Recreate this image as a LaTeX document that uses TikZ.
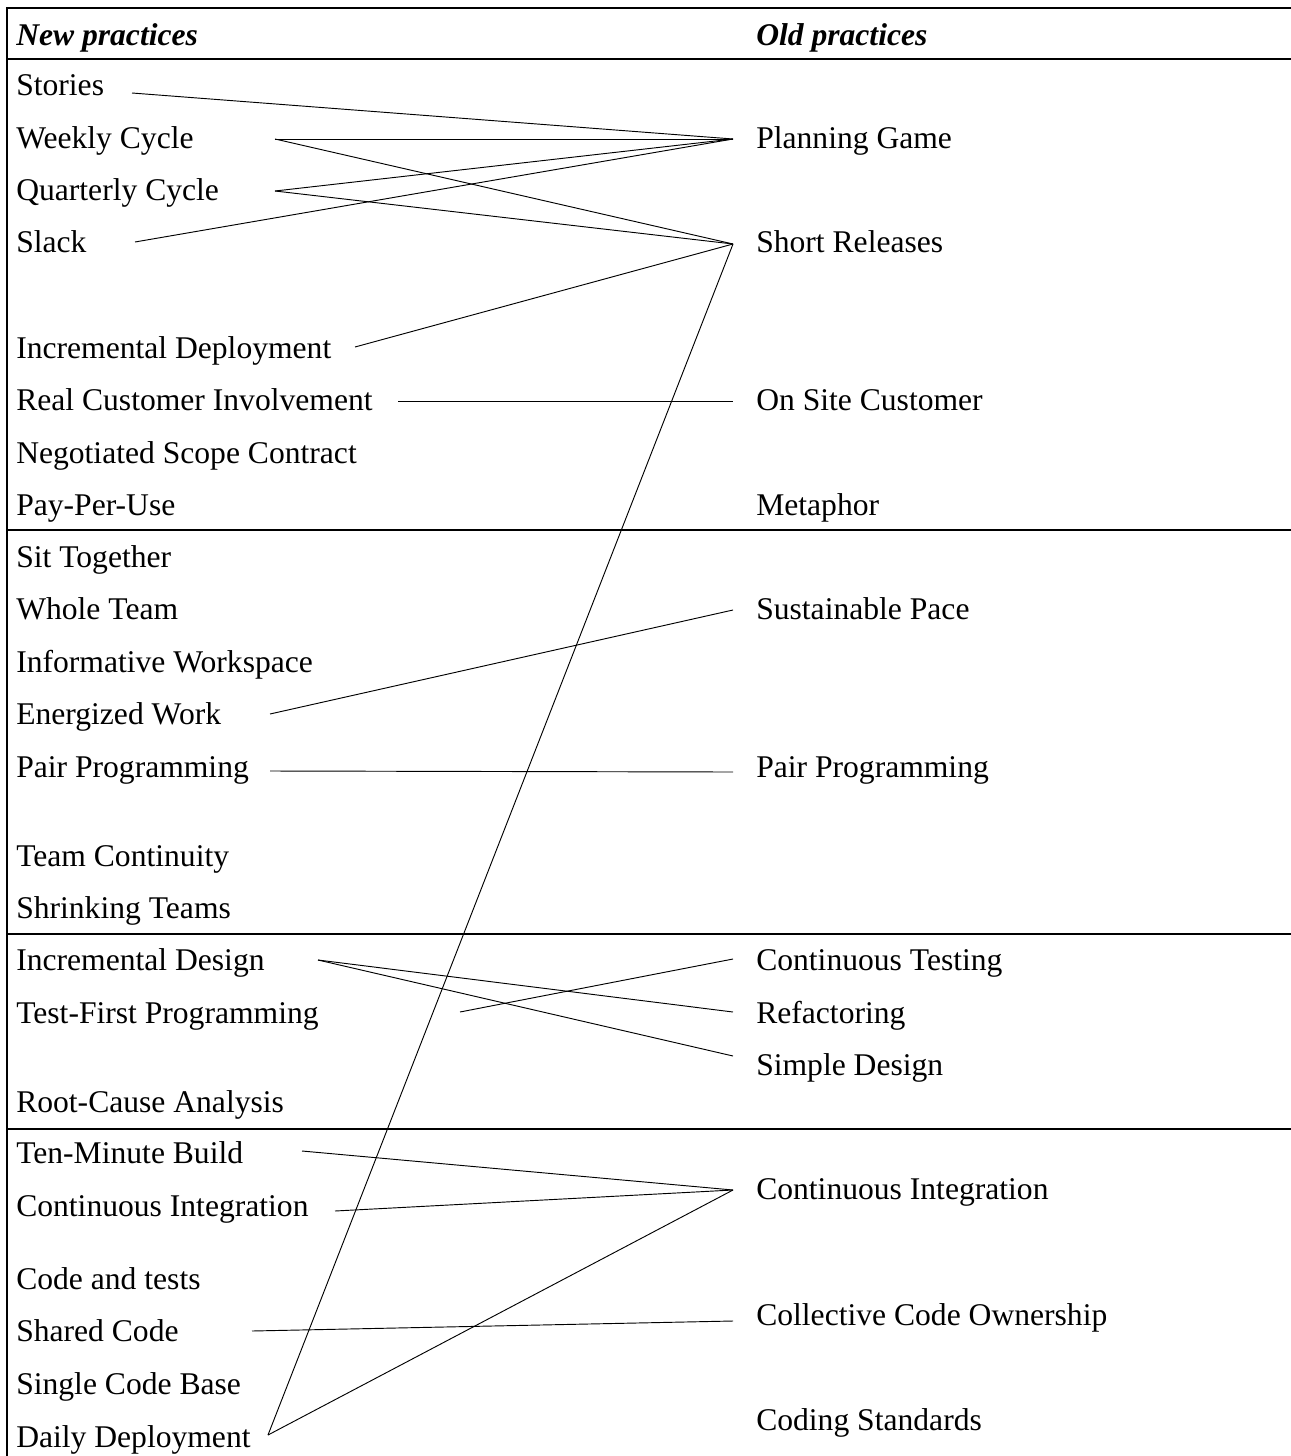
\documentclass[tikz,border=0pt]{standalone}
\usepackage{fontspec}
\setmainfont{Liberation Serif}
\begin{document}
\begin{tikzpicture}[x=0.75pt,y=-0.75pt,
  lbl/.style={anchor=base west, inner sep=0pt, font=\fontsize{23.7}{28}\selectfont},
  hdr/.style={anchor=base west, inner sep=0pt, font=\fontsize{23.7}{28}\selectfont\bfseries\itshape},
  frame/.style={line width=1.4pt},
  conn/.style={line width=0.7pt}]
\useasboundingbox (0,0) rectangle (1291,1456);
% frame
\draw[frame] (7,1456) -- (7,8) -- (1291,8);
\draw[frame] (7,59) -- (1291,59);
\draw[frame] (7,530) -- (1291,530);
\draw[frame] (7,934) -- (1291,934);
\draw[frame] (7,1129) -- (1291,1129);
% headers
\node[hdr] (hnew) at (16,45) {New practices};
\node[hdr] (hold) at (756,45) {Old practices};
% left column
\node[lbl] (Lstories) at (16,95) {Stories};
\node[lbl] (Lweekly) at (16,148) {Weekly Cycle};
\node[lbl] (Lquarter) at (16,200) {Quarterly Cycle};
\node[lbl] (Lslack) at (16,252) {Slack};
\node[lbl] (Lincdep) at (16,358) {Incremental Deployment};
\node[lbl] (Lrealcust) at (16,410) {Real Customer Involvement};
\node[lbl] (Lnegot) at (16,463) {Negotiated Scope Contract};
\node[lbl] (Lpay) at (16,515) {Pay-Per-Use};
\node[lbl] (Lsit) at (16,567) {Sit Together};
\node[lbl] (Lwhole) at (16,619) {Whole Team};
\node[lbl] (Linform) at (16,672) {Informative Workspace};
\node[lbl] (Lenerg) at (16,724) {Energized Work};
\node[lbl] (Lpair) at (16,777) {Pair Programming};
\node[lbl] (Lteamcont) at (16,866) {Team Continuity};
\node[lbl] (Lshrink) at (16,918) {Shrinking Teams};
\node[lbl] (Lincdes) at (16,970) {Incremental Design};
\node[lbl] (Ltestfirst) at (16,1023) {Test-First Programming};
\node[lbl] (Lroot) at (16,1112) {Root-Cause Analysis};
\node[lbl] (Lten) at (16,1163) {Ten-Minute Build};
\node[lbl] (Lci) at (16,1216) {Continuous Integration};
\node[lbl] (Lcode) at (16,1289) {Code and tests};
\node[lbl] (Lshared) at (16,1341) {Shared Code};
\node[lbl] (Lsingle) at (16,1394) {Single Code Base};
\node[lbl] (Ldaily) at (16,1447) {Daily Deployment};
% right column
\node[lbl] (Rplan) at (756,148) {Planning Game};
\node[lbl] (Rshort) at (756,252) {Short Releases};
\node[lbl] (Ronsite) at (756,410) {On Site Customer};
\node[lbl] (Rmeta) at (756,515) {Metaphor};
\node[lbl] (Rsust) at (756,619) {Sustainable Pace};
\node[lbl] (Rpair) at (756,777) {Pair Programming};
\node[lbl] (Rcontest) at (756,970) {Continuous Testing};
\node[lbl] (Rrefac) at (756,1023) {Refactoring};
\node[lbl] (Rsimple) at (756,1075) {Simple Design};
\node[lbl] (Rci) at (756,1199) {Continuous Integration};
\node[lbl] (Rcco) at (756,1325) {Collective Code Ownership};
\node[lbl] (Rcoding) at (756,1430) {Coding Standards};
% connector ports
\coordinate (pStories) at (132,93);
\coordinate (pWeekly) at (275,139);
\coordinate (pQuarter) at (275,191);
\coordinate (pSlack) at (135,242);
\coordinate (pIncdep) at (355,347);
\coordinate (pRealcust) at (398,401);
\coordinate (pEnerg) at (270,714);
\coordinate (pPairL) at (270,771);
\coordinate (pIncdes) at (318,960);
\coordinate (pTestfirst) at (460,1012);
\coordinate (pTen) at (302,1151);
\coordinate (pCiL) at (335,1211);
\coordinate (pShared) at (252,1331);
\coordinate (pDaily) at (268,1435);
\coordinate (qPlan) at (733,139);
\coordinate (qShort) at (733,244);
\coordinate (qOnsite) at (733,401);
\coordinate (qSust) at (733,610);
\coordinate (qPairR) at (733,772);
\coordinate (qContest) at (733,959);
\coordinate (qRefac) at (733,1012);
\coordinate (qSimple) at (733,1056);
\coordinate (qCiR) at (733,1190);
\coordinate (qCco) at (733,1321);
% connectors
\draw[conn] (pStories) -- (qPlan);
\draw[conn] (pWeekly) -- (qPlan);
\draw[conn] (pWeekly) -- (qShort);
\draw[conn] (pQuarter) -- (qPlan);
\draw[conn] (pQuarter) -- (qShort);
\draw[conn] (pSlack) -- (qPlan);
\draw[conn] (pIncdep) -- (qShort);
\draw[conn] (pRealcust) -- (qOnsite);
\draw[conn] (pEnerg) -- (qSust);
\draw[conn] (pPairL) -- (qPairR);
\draw[conn] (pIncdes) -- (qRefac);
\draw[conn] (pIncdes) -- (qSimple);
\draw[conn] (pTestfirst) -- (qContest);
\draw[conn] (pTen) -- (qCiR);
\draw[conn] (pCiL) -- (qCiR);
\draw[conn] (pShared) -- (qCco);
\draw[conn] (pDaily) -- (qShort);
\draw[conn] (pDaily) -- (qCiR);
\end{tikzpicture}
\end{document}
